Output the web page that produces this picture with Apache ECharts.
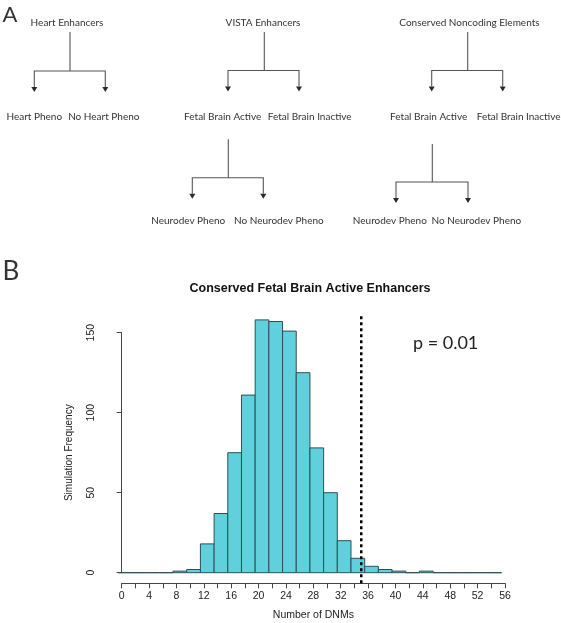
<!DOCTYPE html>
<html>
<head>
<meta charset="utf-8">
<script src="https://cdn.jsdelivr.net/npm/echarts@6.0.0/dist/echarts.min.js"></script>
<style>
  html, body { margin: 0; padding: 0; background: #fff; }
  #main { width: 561px; height: 623px; }
</style>
</head>
<body>
<div id="main"></div>
<script>
// histogram bins (left edge, right edge) and simulation counts
const binLeft = [-0.5, 1.5, 3.5, 5.5, 7.5, 9.5, 11.5, 13.5, 15.5, 17.5, 19.5, 21.5, 23.5, 25.5,
                 27.5, 29.5, 31.5, 33.5, 35.5, 37.5, 39.5, 41.5, 43.5, 45.5, 47.5, 49.5, 51.5, 53.5];
const binRight = [1.5, 3.5, 5.5, 7.5, 9.5, 11.5, 13.5, 15.5, 17.5, 19.5, 21.5, 23.5, 25.5, 27.5,
                  29.5, 31.5, 33.5, 35.5, 37.5, 39.5, 41.5, 43.5, 45.5, 47.5, 49.5, 51.5, 53.5, 55.5];
const counts = [0, 0, 0, 0, 1, 2, 18, 37, 75, 111, 158, 157, 151, 125,
                78, 50, 20, 9, 4, 2, 1, 0, 1, 0, 0, 0, 0, 0];
const observed = 35;
const pLabel = 'p = 0.01';

// panel A tree labels
const topLabels = ['Heart Enhancers', 'VISTA Enhancers', 'Conserved Noncoding Elements'];
const childLabels = [
  ['Heart Pheno', 'No Heart Pheno'],
  ['Fetal Brain Active', 'Fetal Brain Inactive'],
  ['Fetal Brain Active', 'Fetal Brain Inactive']
];
const subLabels = ['Neurodev Pheno', 'No Neurodev Pheno'];

const chart = echarts.init(document.getElementById('main'));

const treeFont = '10px Lato';
const treeColor = '#333';

function text(str, x, y, align, font) {
  return {
    type: 'text', x: x, y: y, silent: true,
    style: {text: str, fill: treeColor, font: font || treeFont, align: align || 'center', verticalAlign: 'middle'}
  };
}

// one split: stem down from a node, a bar across, two arrows down
function fork(x, yTop, yBar, xl, xr) {
  const yArr = yBar + 16;
  const line = {stroke: '#555', lineWidth: 1.1};
  const out = [
    {type: 'line', silent: true, shape: {x1: x, y1: yTop, x2: x, y2: yBar}, style: line},
    {type: 'polyline', silent: true, shape: {points: [[xl, yArr], [xl, yBar], [xr, yBar], [xr, yArr]]}, style: line}
  ];
  [xl, xr].forEach(function (ax) {
    out.push({
      type: 'polygon', silent: true,
      shape: {points: [[ax - 3, yArr], [ax + 3, yArr], [ax, yArr + 5]]},
      style: {fill: '#2a2a2a'}
    });
  });
  return out;
}

let graphics = [];
graphics.push(text('A', 10, 15, 'center', '22px Lato'));
graphics.push(text('B', 11, 272, 'center', '26px Lato'));

graphics.push(text(topLabels[0], 67, 22.7));
graphics.push(text(topLabels[1], 263, 22.7));
graphics.push(text(topLabels[2], 399.3, 22.7, 'left'));

graphics.push(text(childLabels[0][0], 34.3, 116.3));
graphics.push(text(childLabels[0][1], 103.8, 116.3));
graphics.push(text(childLabels[1][0], 222.7, 116.3));
graphics.push(text(childLabels[1][1], 309.7, 116.3));
graphics.push(text(childLabels[2][0], 428.7, 116.3));
graphics.push(text(childLabels[2][1], 476.7, 116.3, 'left'));

graphics.push(text(subLabels[0], 188.2, 220.3));
graphics.push(text(subLabels[1], 278.8, 220.3));
graphics.push(text(subLabels[0], 389.8, 220.3));
graphics.push(text(subLabels[1], 476.3, 220.3));

graphics = graphics
  .concat(fork(70, 32, 71, 34.3, 105.3))
  .concat(fork(264.3, 32, 70.5, 228, 299))
  .concat(fork(467.7, 32, 70.5, 431.7, 502.7))
  .concat(fork(228.3, 139.3, 177.7, 192.3, 263.3))
  .concat(fork(432.3, 144, 182, 396, 468));

graphics.push({
  type: 'text', x: 413, y: 343, silent: true,
  style: {text: pLabel, fill: '#222', font: '18px Lato', align: 'left', verticalAlign: 'middle'}
});

const histData = counts.map(function (c, i) { return [binLeft[i], binRight[i], c]; });

chart.setOption({
  animation: false,
  backgroundColor: '#fff',
  title: {
    text: 'Conserved Fetal Brain Active Enhancers',
    left: 305, top: 277, textAlign: 'center',
    textStyle: {fontFamily: 'Liberation Sans', fontSize: 12.5, fontWeight: 'bold', color: '#111'}
  },
  grid: {left: 121.7, right: 56, top: 332.7, bottom: 50.3, containLabel: false, outerBoundsMode: 'none'},
  xAxis: {
    type: 'value', min: 0, max: 56, interval: 2, offset: 10.6,
    name: 'Number of DNMs', nameLocation: 'middle', nameGap: 26,
    nameTextStyle: {fontFamily: 'Liberation Sans', fontSize: 10.5, color: '#222'},
    axisLine: {show: true, onZero: false, lineStyle: {color: '#444', width: 1}},
    axisTick: {show: true, length: 5, lineStyle: {color: '#444'}},
    axisLabel: {
      margin: 7, fontFamily: 'Liberation Sans', fontSize: 10.5, color: '#222',
      formatter: function (v) { return v % 4 === 0 ? String(v) : ''; }
    },
    splitLine: {show: false}
  },
  yAxis: {
    type: 'value', min: 0, max: 150, interval: 50, offset: 19,
    name: 'Simulation Frequency', nameLocation: 'middle', nameGap: 28, nameRotate: 90,
    nameTextStyle: {fontFamily: 'Liberation Sans', fontSize: 10, color: '#222'},
    axisLine: {show: true, lineStyle: {color: '#444', width: 1}},
    axisTick: {show: true, length: 5, lineStyle: {color: '#444'}},
    axisLabel: {margin: 6, rotate: 90, fontFamily: 'Liberation Sans', fontSize: 10.5, color: '#222'},
    splitLine: {show: false}
  },
  series: [
    {
      type: 'custom',
      clip: false,
      silent: true,
      data: histData,
      encode: {x: [0, 1], y: 2},
      renderItem: function (params, api) {
        const p0 = api.coord([api.value(0), api.value(2)]);
        const p1 = api.coord([api.value(1), 0]);
        return {
          type: 'rect',
          shape: {x: p0[0], y: p0[1], width: p1[0] - p0[0], height: p1[1] - p0[1]},
          style: {fill: '#5fd0dc', stroke: '#2e4f54', lineWidth: 1}
        };
      }
    },
    {
      type: 'line',
      clip: false,
      silent: true,
      symbol: 'none',
      data: [[observed, -6.6], [observed, 161]],
      lineStyle: {color: '#000', width: 2.5, type: [3, 3]}
    }
  ],
  graphic: graphics
});
</script>
</body>
</html>
